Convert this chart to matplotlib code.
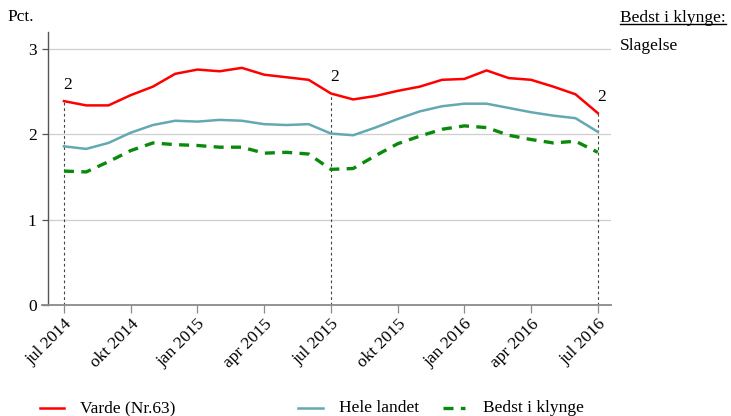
import numpy as np
import matplotlib
matplotlib.use('Agg')
import matplotlib.pyplot as plt
from matplotlib.lines import Line2D

plt.rcParams['font.family'] = ['Liberation Serif', 'DejaVu Serif']
plt.rcParams['font.size'] = 12.5

# Monthly observations, jul 2014 - jul 2016
months = ['jul 2014', 'aug 2014', 'sep 2014', 'okt 2014', 'nov 2014', 'dec 2014',
          'jan 2015', 'feb 2015', 'mar 2015', 'apr 2015', 'maj 2015', 'jun 2015',
          'jul 2015', 'aug 2015', 'sep 2015', 'okt 2015', 'nov 2015', 'dec 2015',
          'jan 2016', 'feb 2016', 'mar 2016', 'apr 2016', 'maj 2016', 'jun 2016',
          'jul 2016']
varde = [2.39, 2.34, 2.34, 2.46, 2.56, 2.71, 2.76, 2.74, 2.78, 2.70, 2.67, 2.64,
         2.48, 2.41, 2.45, 2.51, 2.56, 2.64, 2.65, 2.75, 2.66, 2.64, 2.56, 2.47,
         2.25]
hele_landet = [1.86, 1.83, 1.90, 2.02, 2.11, 2.16, 2.15, 2.17, 2.16, 2.12, 2.11, 2.12,
               2.01, 1.99, 2.08, 2.18, 2.27, 2.33, 2.36, 2.36, 2.31, 2.26, 2.22, 2.19,
               2.03]
bedst = [1.57, 1.56, 1.68, 1.81, 1.90, 1.88, 1.87, 1.85, 1.85, 1.78, 1.79, 1.77,
         1.59, 1.60, 1.75, 1.89, 1.98, 2.06, 2.10, 2.08, 1.99, 1.94, 1.90, 1.92,
         1.79]
# rank markers shown above the red line (jul each year)
rank_idx = [0, 12, 24]
rank_txt = ['2', '2', '2']
tick_idx = [0, 3, 6, 9, 12, 15, 18, 21, 24]
tick_labels = ['jul 2014', 'okt 2014', 'jan 2015', 'apr 2015', 'jul 2015',
               'okt 2015', 'jan 2016', 'apr 2016', 'jul 2016']

x = np.arange(len(months))
red = '#ff0000'
teal = '#63a9b3'
green = '#0a8a0a'

fig = plt.figure(figsize=(7.31, 4.16), dpi=100)
ax = fig.add_axes([0.0653, 0.2668, 0.836 - 0.0653, 0.923 - 0.2668])

for v in [1, 2, 3]:
    ax.axhline(v, color='#cfcfcf', lw=0.9, zorder=0)

for i in rank_idx:
    ax.plot([x[i], x[i]], [0, varde[i]], color='#444444', lw=0.8, ls=(0, (2.5, 2.5)), zorder=1)

ax.plot(x, varde, color=red, lw=1.8, zorder=3)
ax.plot(x, hele_landet, color=teal, lw=1.8, zorder=3)
ax.plot(x, bedst, color=green, lw=2.4, ls=(0, (3, 2.2)), zorder=3)

for i, t in zip(rank_idx, rank_txt):
    ax.annotate(t, (x[i], varde[i]), xytext=(2.9, 11.8), textcoords='offset points',
                ha='center', va='center', fontsize=12.5)

ax.set_xlim(-0.73, 24.6)
ax.set_ylim(0, 3.2)
ax.set_yticks([0, 1, 2, 3])
ax.set_xticks(tick_idx)
ax.set_xticklabels(tick_labels, rotation=45, ha='right', va='top',
                   rotation_mode='anchor')

for s in ['top', 'right']:
    ax.spines[s].set_visible(False)
ax.spines['left'].set_color('#555555')
ax.spines['left'].set_linewidth(1.0)
ax.spines['bottom'].set_color('#8a8a8a')
ax.spines['bottom'].set_linewidth(1.3)
ax.spines['bottom'].set_bounds(-1.0, 24.6)
ax.spines['bottom'].set_zorder(4)
ax.tick_params(axis='y', length=4, width=0.9, color='#555555', pad=4)
ax.tick_params(axis='x', length=6, width=0.9, color='#8a8a8a', pad=2)
ax.spines['bottom'].set_clip_on(False)

fig.text(7 / 731, 1 - 17 / 416, 'Pct.', ha='left', va='center', fontsize=12.5)
title = fig.text(620 / 731, 1 - 18 / 416, 'Bedst i klynge:', ha='left', va='center', fontsize=12.5)
fig.text(620 / 731, 1 - 46 / 416, 'Slagelse', ha='left', va='center', fontsize=12.5)

# underline the right-hand header
fig.canvas.draw()
bb = title.get_window_extent().transformed(fig.transFigure.inverted())
fig.add_artist(Line2D([bb.x0, bb.x1], [bb.y0 + 0.004, bb.y0 + 0.004], color='black', lw=1.0))

# manual legend row along the bottom
leg_y = 1 - 408 / 416
entries = [('Varde (Nr.63)', red, '-', 40, 64, 80),
           ('Hele landet', teal, '-', 298, 323, 339),
           ('Bedst i klynge', green, (0, (3, 2.2)), 443, 465, 483)]
for label, c, ls, x0, x1, xt in entries:
    lw = 2.4 if c == green else 1.8
    fig.add_artist(Line2D([x0 / 731, x1 / 731], [leg_y, leg_y], color=c, lw=lw, ls=ls))
    fig.text(xt / 731, leg_y, label, ha='left', va='center', fontsize=12.5)

plt.savefig('out.png', dpi=100)
